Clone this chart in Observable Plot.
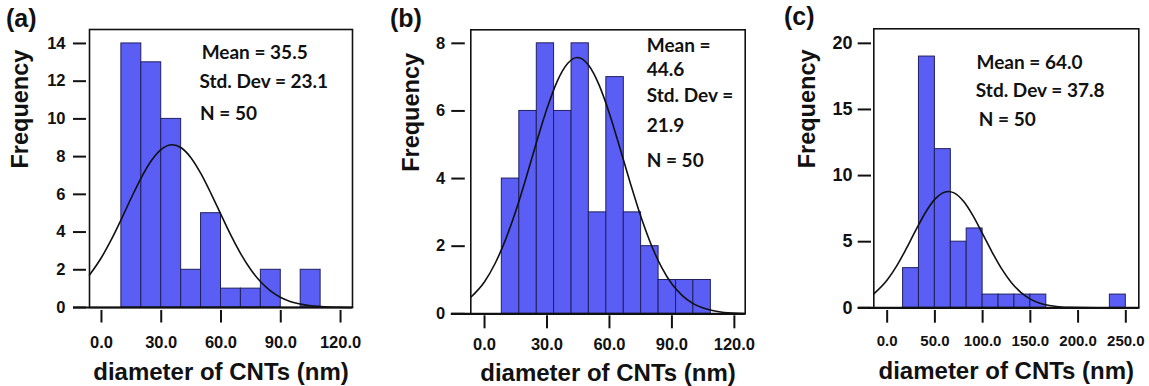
<!DOCTYPE html>
<html>
<head>
<meta charset="utf-8">
<script src="https://cdn.jsdelivr.net/npm/d3@7"></script>
<script src="https://cdn.jsdelivr.net/npm/@observablehq/plot@0.6"></script>
<style>
  html, body { margin: 0; padding: 0; background: #fff; }
  #root { position: relative; width: 1149px; height: 386px; overflow: hidden; background: #fff; }
  .panel { position: absolute; top: 0; width: 383px; height: 386px; }
  .plabel { position: absolute; font-family: 'Liberation Sans', Arial, sans-serif; font-weight: bold; font-size: 25px; color: #111; line-height: 1; }
</style>
</head>
<body>
<div id="root"></div>
<script>
// ---------------- data ----------------
const xLabel = "diameter of CNTs (nm)";
const yLabel = "Frequency";

// panel (a)
const aEdges  = [10, 20, 30, 40, 50, 60, 70, 80, 90, 100, 110];
const aCounts = [14, 13, 10, 2, 5, 1, 1, 2, 0, 2];
const aCurveX = [-6, 0, 5, 10, 15, 20, 25, 30, 35.5, 40, 45, 50, 55, 60, 65, 70, 75, 80, 85, 90, 95, 100, 105, 110, 118, 126];
const aCurveY = [1.72, 2.65, 3.61, 4.69, 5.82, 6.89, 7.78, 8.39, 8.63, 8.47, 7.93, 7.08, 6.04, 4.92, 3.82, 2.83, 2.00, 1.35, 0.87, 0.53, 0.31, 0.18, 0.09, 0.05, 0.01, 0.0];
const aXTicks = [0, 30, 60, 90, 120];
const aYTicks = [0, 2, 4, 6, 8, 10, 12, 14];
const aStats  = ["Mean = 35.5", "Std. Dev = 23.1", "N = 50"];

// panel (b)
const bEdges  = [8.3, 16.7, 25.1, 33.4, 41.8, 50.1, 58.5, 66.9, 75.2, 83.6, 92.0, 100.3, 108.7];
const bCounts = [4, 6, 8, 6, 8, 3, 7, 3, 2, 1, 1, 1];
const bCurveX = [-6.6, 0, 5, 10, 15, 20, 25, 30, 35, 40, 44.6, 50, 55, 60, 65, 70, 75, 80, 85, 90, 95, 100, 105, 110, 115, 125.2];
const bCurveY = [0.49, 0.95, 1.48, 2.18, 3.04, 4.03, 5.08, 6.07, 6.89, 7.41, 7.58, 7.35, 6.77, 5.92, 4.91, 3.87, 2.89, 2.05, 1.38, 0.88, 0.54, 0.31, 0.17, 0.09, 0.04, 0.01];
const bXTicks = [0, 30, 60, 90, 120];
const bYTicks = [0, 2, 4, 6, 8];
const bStats  = ["Mean =", "44.6", "Std. Dev =", "21.9", "N = 50"];

// panel (c)
const cEdges  = [16.7, 33.3, 50, 66.7, 83.3, 100, 116.7, 133.3, 150, 166.7, 183.3, 200, 216.7, 233.3, 250];
const cCounts = [3, 19, 12, 5, 6, 1, 1, 1, 1, 0, 0, 0, 0, 1];
const cCurveX = [-14, 0, 10, 20, 30, 40, 50, 64, 70, 80, 90, 100, 110, 120, 130, 140, 150, 160, 170, 180, 190, 220, 263.6];
const cCurveY = [1.05, 2.10, 3.17, 4.47, 5.87, 7.19, 8.22, 8.80, 8.69, 8.05, 6.95, 5.59, 4.20, 2.94, 1.92, 1.17, 0.66, 0.35, 0.17, 0.08, 0.03, 0.0, 0.0];
const cXTicks = [0, 50, 100, 150, 200, 250];
const cYTicks = [0, 5, 10, 15, 20];
const cStats  = ["Mean = 64.0", "Std. Dev = 37.8", "N = 50"];

// ---------------- layout / style ----------------
const SANS = "'Liberation Sans', Arial, sans-serif";
const STAT_FONT = "Lato, 'Open Sans', sans-serif";
const BAR_FILL = "#5a5ef4";
const BAR_STROKE = "#20205e";

const panels = [
  { label: "(a)", left: 0, labelPos: [6, 6],
    edges: aEdges, counts: aCounts, cx: aCurveX, cy: aCurveY, xt: aXTicks, yt: aYTicks, stats: aStats,
    margin: [29, 31, 79, 89], xDomain: [-6, 126], yDomain: [0, 14.74],
    xAxis: { tickSize: 12.5, dy: 3, tickPadding: 13, fontSize: 16.5 },
    yAxis: { tickSize: 13, dx: -3, tickPadding: 8, fontSize: 16.5 },
    ext: 16, yLabDx: -69, xLabDy: 72,
    statX: [50.3, 49.2, 49.5], statY: [13.15, 11.66, 9.92], statSize: 19 },
  { label: "(b)", left: 383, labelPos: [7, 6],
    edges: bEdges, counts: bCounts, cx: bCurveX, cy: bCurveY, xt: bXTicks, yt: bYTicks, stats: bStats,
    margin: [29.3, 21.3, 72.7, 87.3], xDomain: [-6.6, 125.2], yDomain: [0, 8.4],
    xAxis: { tickSize: 13, dy: 2, tickPadding: 9, fontSize: 16.5 },
    yAxis: { tickSize: 13.5, dx: -5.5, tickPadding: 6.5, fontSize: 16.5 },
    ext: 19.5, yLabDx: -59, xLabDy: 67,
    statX: [77.9, 77.9, 77.9, 77.9, 77.9], statY: [7.73, 7.04, 6.25, 5.37, 4.33], statSize: 19 },
  { label: "(c)", left: 766, labelPos: [18, 4],
    edges: cEdges, counts: cCounts, cx: cCurveX, cy: cCurveY, xt: cXTicks, yt: cYTicks, stats: cStats,
    margin: [28.3, 10.7, 78.7, 107.3], xDomain: [-14, 263.6], yDomain: [0, 21.1],
    xAxis: { tickSize: 12.7, dy: 2.7, tickPadding: 12.3, fontSize: 15 },
    yAxis: { tickSize: 13.3, dx: -2.3, tickPadding: 5.7, fontSize: 18 },
    ext: 15.6, yLabDx: -66, xLabDy: 71,
    statX: [93.6, 92.9, 96.0], statY: [18.06, 15.92, 13.78], statSize: 19 }
];

const root = document.getElementById("root");

for (const p of panels) {
  const bins = p.counts.map((c, i) => ({ x1: p.edges[i], x2: p.edges[i + 1], count: c })).filter(d => d.count > 0);
  const curve = p.cx.map((x, i) => ({ x, y: p.cy[i] }));
  const stats = p.stats.map((t, i) => ({ t, x: p.statX[i], y: p.statY[i] }));
  const [mt, mr, mb, ml] = p.margin;

  const chart = Plot.plot({
    width: 383, height: 386,
    marginTop: mt, marginRight: mr, marginBottom: mb, marginLeft: ml,
    style: { fontFamily: SANS, fontWeight: "bold", color: "#111", background: "transparent", overflow: "visible" },
    x: { domain: p.xDomain },
    y: { domain: p.yDomain },
    marks: [
      Plot.rectY(bins, { x1: "x1", x2: "x2", y: "count", fill: BAR_FILL, stroke: BAR_STROKE, strokeWidth: 1 }),
      Plot.line(curve, { x: "x", y: "y", curve: "monotone-x", stroke: "#111", strokeWidth: 1.6 }),
      Plot.frame({ stroke: "#111", strokeWidth: 1.6 }),
      Plot.ruleY([0], { insetLeft: -p.ext, stroke: "#111", strokeWidth: 2.2 }),
      Plot.axisX(p.xt, { anchor: "bottom", tickSize: p.xAxis.tickSize, dy: p.xAxis.dy, tickPadding: p.xAxis.tickPadding,
        fontSize: p.xAxis.fontSize, fontWeight: "bold", strokeWidth: 2, tickFormat: d => d.toFixed(1), label: null }),
      Plot.axisY(p.yt, { anchor: "left", tickSize: p.yAxis.tickSize, dx: p.yAxis.dx, tickPadding: p.yAxis.tickPadding,
        fontSize: p.yAxis.fontSize, fontWeight: "bold", strokeWidth: 2, tickFormat: d => String(d), label: null }),
      Plot.text([yLabel], { text: d => d, frameAnchor: "left", rotate: -90, dx: p.yLabDx, fontSize: 23.5, fontWeight: "bold", fill: "#111" }),
      Plot.text([xLabel], { text: d => d, frameAnchor: "bottom", lineAnchor: "bottom", dy: p.xLabDy, fontSize: 24, fontWeight: "bold", fill: "#111" }),
      Plot.text(stats, { x: "x", y: "y", text: "t", textAnchor: "start", lineAnchor: "bottom",
        fontFamily: STAT_FONT, fontSize: p.statSize, fontWeight: "bold", fill: "#111" })
    ]
  });

  const div = document.createElement("div");
  div.className = "panel";
  div.style.left = p.left + "px";
  div.appendChild(chart);
  const lab = document.createElement("div");
  lab.className = "plabel";
  lab.textContent = p.label;
  lab.style.left = p.labelPos[0] + "px";
  lab.style.top = p.labelPos[1] + "px";
  div.appendChild(lab);
  root.appendChild(div);
}
</script>
</body>
</html>
